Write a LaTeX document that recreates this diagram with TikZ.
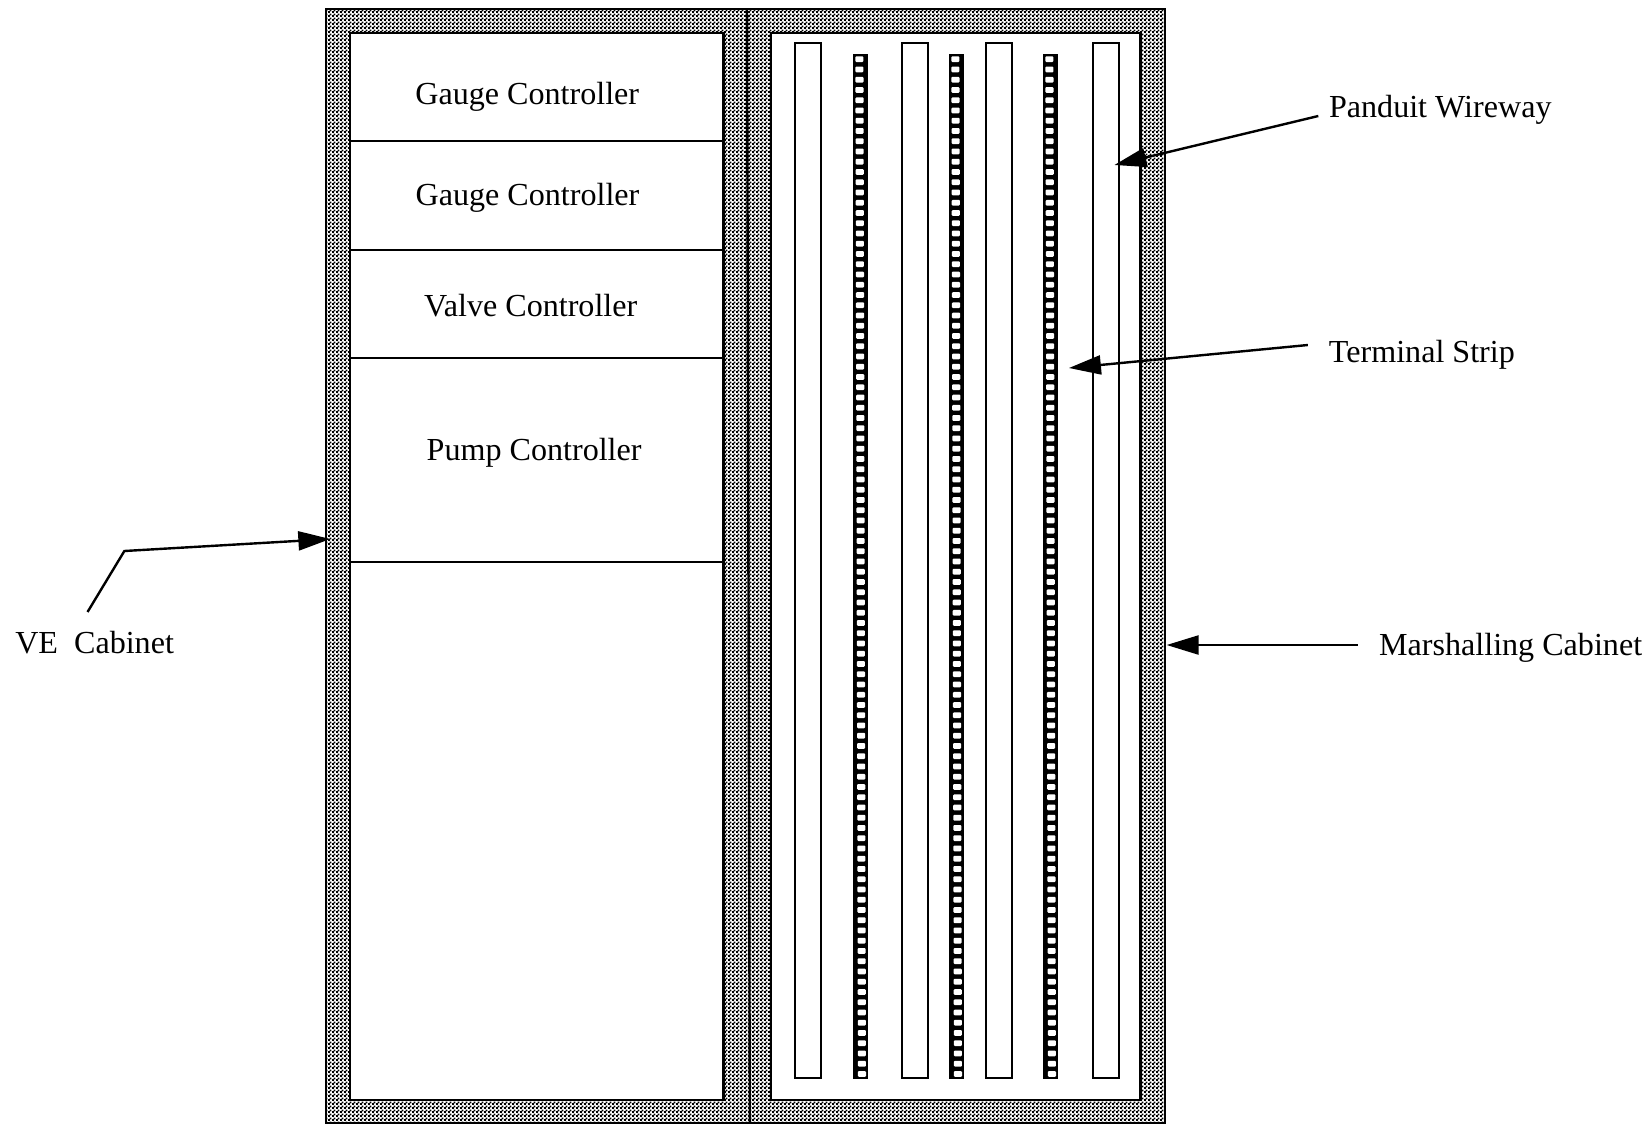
\documentclass[tikz,border=0pt]{standalone}
\usepackage{fontspec}
\setmainfont{Liberation Serif}
\usetikzlibrary{arrows.meta,patterns}
\pgfdeclarepatternformonly{halftone}{\pgfpointorigin}{\pgfqpoint{2pt}{2pt}}{\pgfqpoint{2pt}{2pt}}{%
  \pgfpathrectangle{\pgfpointorigin}{\pgfqpoint{1.15pt}{1.15pt}}%
  \pgfpathrectangle{\pgfqpoint{1pt}{1pt}}{\pgfqpoint{1.15pt}{1.15pt}}%
  \pgfusepath{fill}}
\tikzset{
  cabinet/.style={draw=black,line width=1.2pt,pattern=halftone,pattern color=black},
  panel/.style={draw=black,line width=1.3pt,fill=white},
  divider/.style={draw=black,line width=1.2pt},
  wireway/.style={draw=black,line width=1.2pt,fill=white},
  stripbody/.style={fill=black},
  striphole/.style={fill=white,rounded corners=0.5pt},
  label/.style={font=\fontsize{16.05pt}{18pt}\selectfont,inner sep=0pt,text=black},
  leader/.style={draw=black,line width=1.2pt,-{Triangle[length=16pt,width=9.5pt]}}
}
\newcommand{\wiredraw}[1]{\draw[wireway] (#1,43) rectangle (#1+23.5,1078);}
\newcommand{\stripdraw}[1]{%
  \fill[stripbody] (#1,54) rectangle (#1+12.5,1079);
  \foreach \k in {0,...,99}{
    \fill[striphole] (#1+2.2,{56.3+\k*10.25}) rectangle (#1+10.3,{62+\k*10.25});
  }}
\begin{document}
\begin{tikzpicture}[x={(0.5pt,0pt)},y={(0.00125pt,-0.5pt)}]
\useasboundingbox[fill=white] (0pt,0pt) rectangle (826pt,-562pt);
% cabinets
\draw[cabinet] (326,9) rectangle (1162,1123);
\draw[panel] (350,33) rectangle (721,1100);
\draw[panel] (771,33) rectangle (1138,1100);
\draw[divider] (747,9) -- (747,1123);
% shelves
\draw[divider] (350,141) -- (723,141);
\draw[divider] (350,250) -- (723,250);
\draw[divider] (350,358) -- (723,358);
\draw[divider] (350,562) -- (723,562);
% wireways and strips
\wiredraw{795}\wiredraw{902}\wiredraw{986}\wiredraw{1093}
\stripdraw{853}\stripdraw{949}\stripdraw{1043}
% labels
\node[label] (g1) at (527,97) {Gauge Controller};
\node[label] (g2) at (527,198) {Gauge Controller};
\node[label] (vc) at (530,306) {Valve Controller};
\node[label] (pc) at (533,453) {Pump Controller};
\node[label] (ve) at (93,643) {VE\ \ Cabinet};
\node[label] (mc) at (1509,648) {Marshalling Cabinet};
\node[label] (pw) at (1440,110) {Panduit Wireway};
\node[label] (ts) at (1421,355) {Terminal Strip};
% leaders
\coordinate (veStart) at (86,612);
\coordinate (veBend) at (123,551);
\coordinate (veTip) at (329,539);
\coordinate (mcStart) at (1356,645);
\coordinate (mcTip) at (1165,645);
\coordinate (pwStart) at (1318,116);
\coordinate (pwTip) at (1114,165);
\coordinate (tsStart) at (1307,345);
\coordinate (tsTip) at (1068,368);
\draw[leader] (veStart) -- (veBend) -- (veTip);
\draw[leader] (mcStart) -- (mcTip);
\draw[leader] (pwStart) -- (pwTip);
\draw[leader] (tsStart) -- (tsTip);
\end{tikzpicture}
\end{document}
